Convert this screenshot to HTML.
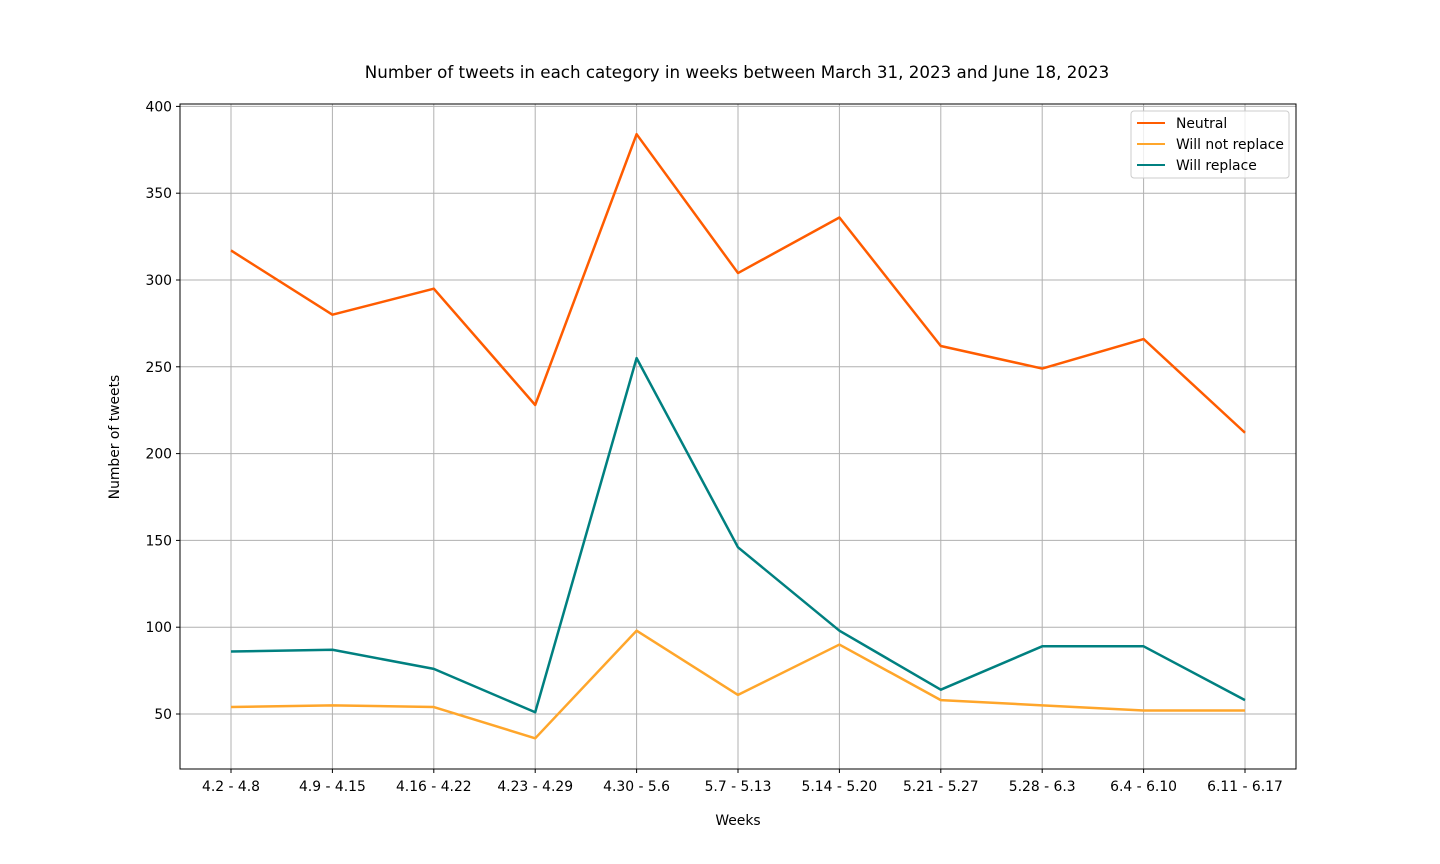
<!DOCTYPE html>
<html><head><meta charset="utf-8"><style>
body{margin:0;background:#fff;}
svg{display:block;font-family:"DejaVu Sans","Liberation Sans",sans-serif;}
</style></head><body>
<svg id="chart" width="1440" height="864"></svg>
<script>
const categories=["4.2 - 4.8","4.9 - 4.15","4.16 - 4.22","4.23 - 4.29","4.30 - 5.6","5.7 - 5.13","5.14 - 5.20","5.21 - 5.27","5.28 - 6.3","6.4 - 6.10","6.11 - 6.17"];
const neutral=[317,280,295,228,384,304,336,262,249,266,212];
const willNotReplace=[54,55,54,36,98,61,90,58,55,52,52];
const willReplace=[86,87,76,51,255,146,98,64,89,89,58];
const yTicks=[50,100,150,200,250,300,350,400];
const series=[
 {name:"Neutral",data:neutral,color:"#ff5c00",key:"neutral"},
 {name:"Will not replace",data:willNotReplace,color:"#ffa62b",key:"will-not-replace"},
 {name:"Will replace",data:willReplace,color:"#008080",key:"will-replace"}
];
const L=180,R=1296,T=104,B=769;
const ns="http://www.w3.org/2000/svg";
const svg=document.getElementById('chart');
function x(i){return 231+i*(1245-231)/(categories.length-1);}
function y(v){return 714-(v-50)*(714-106.4)/350;}
function mk(tag,attrs,parent){const e=document.createElementNS(ns,tag);for(const k in attrs)e.setAttribute(k,attrs[k]);(parent||svg).appendChild(e);return e;}
categories.forEach((c,i)=>{
 const g=mk('line',{x1:x(i),x2:x(i),y1:T,y2:B,stroke:'#b0b0b0','stroke-width':1});
 
 
 mk('line',{x1:x(i),x2:x(i),y1:B,y2:B+4,stroke:'#000'});
 const t=mk('text',{x:x(i),y:B+22,'text-anchor':'middle','font-size':13.9});
 t.textContent=c;
 
 
});
yTicks.forEach(v=>{
 const g=mk('line',{x1:L,x2:R,y1:y(v),y2:y(v),stroke:'#b0b0b0','stroke-width':1});
 
 
 mk('line',{x1:L-4,x2:L,y1:y(v),y2:y(v),stroke:'#000'});
 const t=mk('text',{x:L-8,y:y(v)+5,'text-anchor':'end','font-size':13.9});
 t.textContent=v;
 
 
});
series.forEach(s=>{
 const p=mk('polyline',{points:s.data.map((v,i)=>x(i)+','+y(v)).join(' '),fill:'none',stroke:s.color,'stroke-width':2.5,'stroke-linejoin':'round'});
 
 
});
const fr=mk('rect',{x:L,y:T,width:R-L,height:B-T,fill:'none',stroke:'#000','stroke-width':1});


const tt=mk('text',{x:737,y:78,'text-anchor':'middle','font-size':16.7});
tt.textContent="Number of tweets in each category in weeks between March 31, 2023 and June 18, 2023";


const xt=mk('text',{x:738,y:825,'text-anchor':'middle','font-size':13.9});
xt.textContent="Weeks";


const yt=mk('text',{x:119,y:437,'text-anchor':'middle','font-size':13.9,transform:'rotate(-90 119 437)'});
yt.textContent="Number of tweets";


const lg=mk('g',{});


mk('rect',{x:1131,y:111,width:158,height:67,rx:3,fill:'#fff','fill-opacity':0.8,stroke:'#ccc'},lg);
series.forEach((s,i)=>{
 const ly=123+i*21;
 const e=mk('g',{},lg);
 
 
 mk('line',{x1:1137,x2:1165,y1:ly,y2:ly,stroke:s.color,'stroke-width':2},e);
 const t=mk('text',{x:1176,y:ly+5,'font-size':13.9},e);
 t.textContent=s.name;
});
</script>
</body></html>
